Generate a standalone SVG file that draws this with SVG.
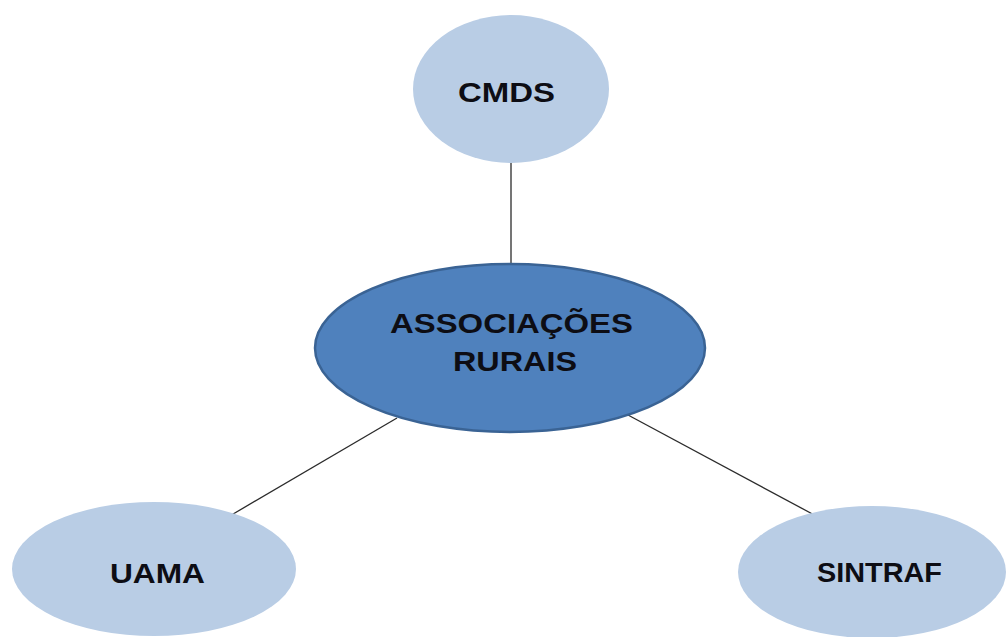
<svg xmlns="http://www.w3.org/2000/svg" width="1006" height="637" viewBox="0 0 1006 637">
<style>
.light{fill:#b9cde5;stroke:none}
.main{fill:#4f81bd;stroke:#3a6394;stroke-width:2.5}
.lbl{font-family:"Liberation Sans",Arial,sans-serif;font-weight:bold;font-size:28px;fill:#0d0d14}
.conn{stroke:#2b2b2b;stroke-width:1.3;fill:none}
</style>
<rect width="1006" height="637" fill="#ffffff"/>
<g id="connectors">
<line class="conn" x1="511" y1="162" x2="511" y2="266"/>
<line class="conn" x1="397" y1="418" x2="228" y2="517"/>
<line class="conn" x1="628" y1="415" x2="818" y2="517"/>
</g>
<g id="cmds">
<ellipse class="light" cx="511" cy="89" rx="98" ry="74"/>
<text class="lbl" x="458" y="102" textLength="97" lengthAdjust="spacingAndGlyphs">CMDS</text>
</g>
<g id="associacoes">
<ellipse class="main" cx="510" cy="348" rx="195" ry="84"/>
<text class="lbl" x="390" y="333" textLength="243" lengthAdjust="spacingAndGlyphs">ASSOCIAÇÕES</text>
<text class="lbl" x="453" y="371" textLength="124" lengthAdjust="spacingAndGlyphs">RURAIS</text>
</g>
<g id="uama">
<ellipse class="light" cx="154" cy="569" rx="142" ry="67"/>
<text class="lbl" x="110" y="583" textLength="95" lengthAdjust="spacingAndGlyphs">UAMA</text>
</g>
<g id="sintraf">
<ellipse class="light" cx="872" cy="572" rx="134" ry="66"/>
<text class="lbl" x="817" y="582" textLength="125" lengthAdjust="spacingAndGlyphs">SINTRAF</text>
</g>
</svg>
